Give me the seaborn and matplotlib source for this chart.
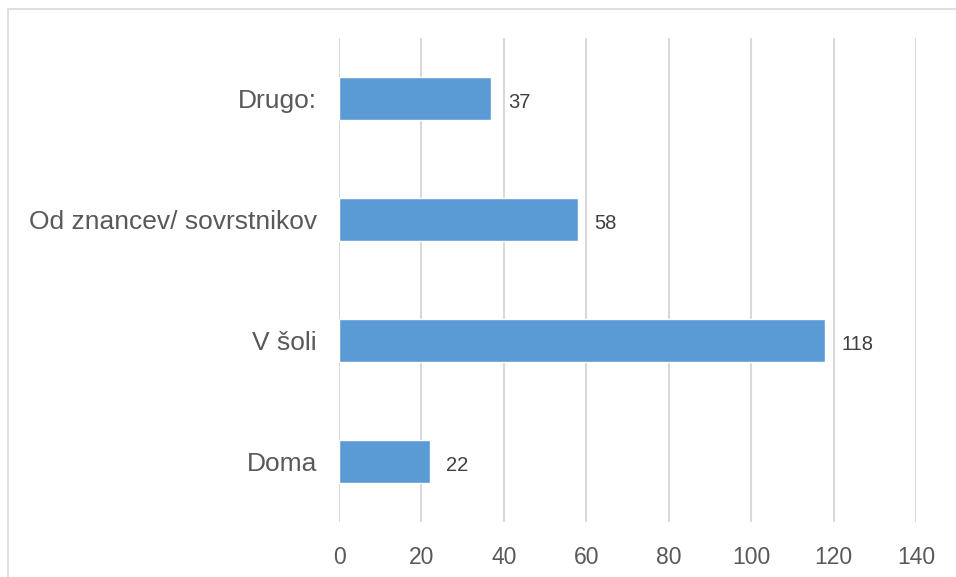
#horizontal bar chart: where did people learn it
import pandas as pd
import matplotlib.pyplot as plt
import seaborn as sns
from matplotlib.patches import Rectangle

#data, top to bottom
categories = ["Drugo:", "Od znancev/ sovrstnikov", "V šoli", "Doma"]
values = [37, 58, 118, 22]
x_ticks = [0, 20, 40, 60, 80, 100, 120, 140]

df = pd.DataFrame({"kategorija": categories, "stevilo": values})

sns.set_theme(style="white")
plt.rcParams["font.family"] = ["Liberation Sans", "DejaVu Sans"]

fig = plt.figure(figsize=(9.56, 5.77), dpi=100)
ax = fig.add_axes([339 / 956, 1 - 522 / 577, 577 / 956, 484 / 577])

sns.barplot(data=df, x="stevilo", y="kategorija", order=categories,
            color="#5B9BD5", saturation=1, width=0.35, ax=ax)

#data labels to the right of each bar
for bar, v in zip(ax.patches, values):
    ax.text(bar.get_width() + 4, bar.get_y() + bar.get_height() / 2 + 0.03, str(v),
            va="center", ha="left", fontsize=14.5, color="#404040")

ax.set_xlim(0, 140)
ax.set_ylim(3.5, -0.5)
ax.set_xticks(x_ticks)
ax.xaxis.grid(True, color="#d9d9d9", linewidth=1.5)
ax.set_axisbelow(True)
ax.set_xlabel("")
ax.set_ylabel("")
for s in ax.spines.values():
    s.set_visible(False)
ax.tick_params(axis="x", labelsize=16.5, colors="#595959", length=0, pad=17)
ax.tick_params(axis="y", labelsize=19, colors="#595959", length=0, pad=16)

#light border round the chart area, cut off at right and bottom
fig.patches.append(Rectangle((8 / 956, -0.1), 1.2, 1 - 9 / 577 + 0.1,
                             transform=fig.transFigure, fill=False,
                             edgecolor="#d9d9d9", linewidth=1.2))

plt.savefig("out.png", dpi=100)
plt.close()
